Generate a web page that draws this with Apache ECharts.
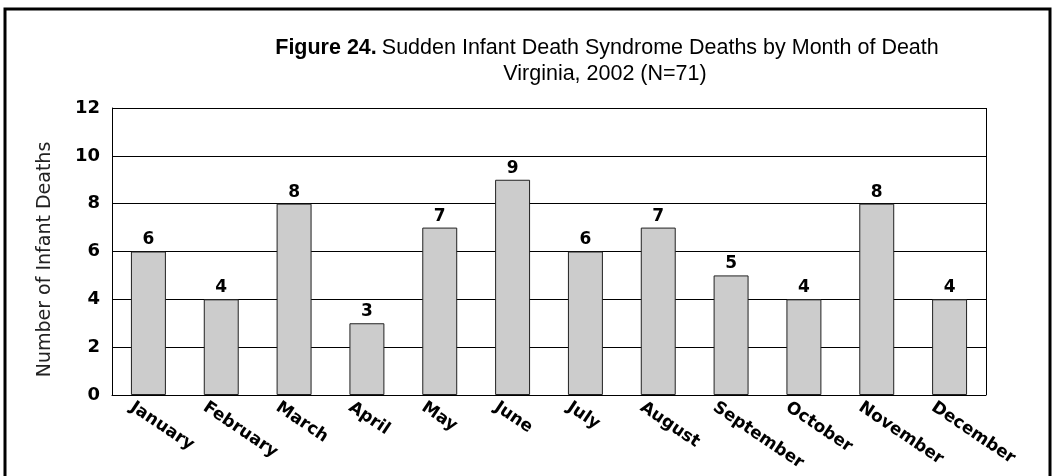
<!DOCTYPE html>
<html>
<head>
<meta charset="utf-8">
<script src="https://cdn.jsdelivr.net/npm/echarts@6/dist/echarts.min.js"></script>
<style>
  html, body { margin: 0; padding: 0; background: #fff; }
  #chart { width: 1057px; height: 476px; }
</style>
</head>
<body>
<div id="chart"></div>
<script>
// month of death
const months = ['January', 'February', 'March', 'April', 'May', 'June',
  'July', 'August', 'September', 'October', 'November', 'December']
// SIDS deaths, Virginia 2002
const deaths = [6, 4, 8, 3, 7, 9, 6, 7, 5, 4, 8, 4]
const yTicks = [0, 2, 4, 6, 8, 10, 12]

const titleFont = 'Liberation Sans Narrow, Liberation Sans, Arial, sans-serif'
const bodyFont = 'DejaVu Sans, sans-serif'

const chart = echarts.init(document.getElementById('chart'))

chart.setOption({
  animation: false,
  graphic: [{
    type: 'rect',
    shape: { x: 5, y: 9, width: 1045, height: 480 },
    style: { fill: 'none', stroke: '#000', lineWidth: 3 },
    silent: true
  }, {
    type: 'line',
    shape: { x1: 986.5, y1: 108, x2: 986.5, y2: 395 },
    style: { stroke: '#000', lineWidth: 1 },
    silent: true
  }],
  title: [{
    left: 602,
    textAlign: 'center',
    top: 32,
    text: '{b|Figure 24.} {n|Sudden Infant Death Syndrome Deaths by Month of Death}',
    textStyle: {
      rich: {
        b: { fontFamily: titleFont, fontWeight: 'bold', fontSize: 21.5, color: '#000' },
        n: { fontFamily: titleFont, fontWeight: 'normal', fontSize: 21.5, color: '#000' }
      }
    }
  }, {
    left: 600,
    textAlign: 'center',
    top: 58,
    text: 'Virginia, 2002 (N=71)',
    textStyle: { fontFamily: titleFont, fontWeight: 'normal', fontSize: 21.5, color: '#000' }
  }],
  grid: { left: 112, right: 71, top: 108, bottom: 81, containLabel: false },
  xAxis: {
    type: 'category',
    data: months,
    axisTick: { show: false },
    axisLine: { lineStyle: { color: '#000', width: 1 } },
    axisLabel: {
      interval: 0,
      rotate: -34,
      margin: 22,
      padding: [0, 0, 0, -20],
      fontFamily: bodyFont,
      fontWeight: 'bold',
      fontSize: 17,
      color: '#000'
    }
  },
  yAxis: {
    type: 'value',
    min: yTicks[0],
    max: yTicks[yTicks.length - 1],
    interval: 2,
    name: 'Number of Infant Deaths',
    nameLocation: 'middle',
    nameGap: 57,
    nameTextStyle: { fontFamily: bodyFont, fontSize: 19, color: '#222', padding: [0, 16, 0, 0] },
    axisLine: { show: true, lineStyle: { color: '#000' } },
    axisTick: { show: false },
    axisLabel: {
      margin: 12,
      fontFamily: bodyFont,
      fontWeight: 'bold',
      fontSize: 18,
      color: '#000'
    },
    splitLine: { lineStyle: { color: '#000', width: 1 } }
  },
  series: [{
    type: 'bar',
    data: deaths,
    barWidth: '48%',
    itemStyle: { color: '#cccccc', borderColor: '#222', borderWidth: 1 },
    label: {
      show: true,
      position: 'top',
      distance: 3,
      fontFamily: bodyFont,
      fontWeight: 'bold',
      fontSize: 17,
      color: '#000'
    }
  }]
})
</script>
</body>
</html>
